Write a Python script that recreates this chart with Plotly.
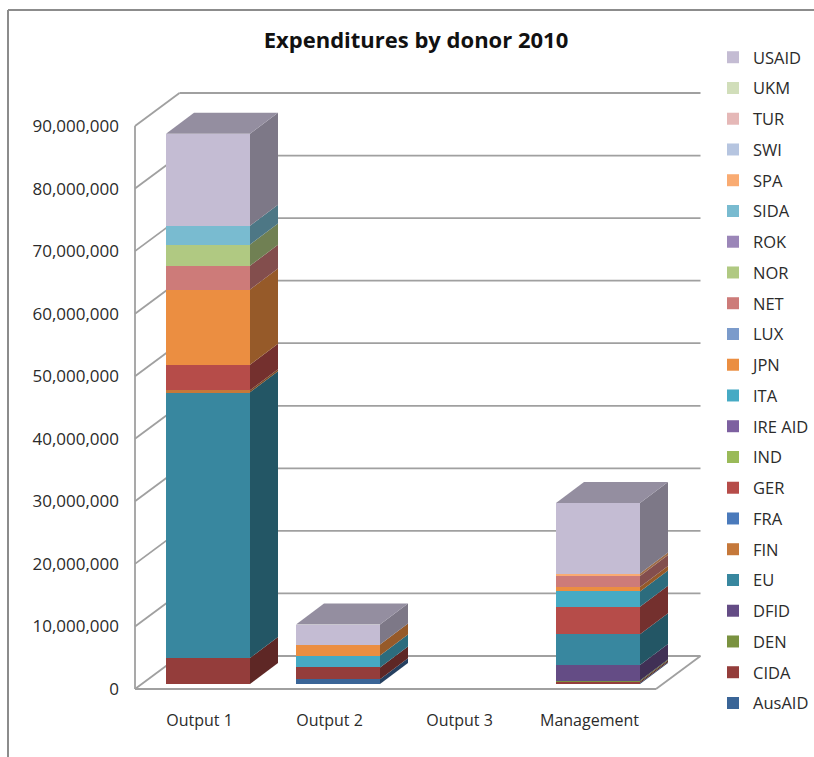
import plotly.graph_objects as go

title = "Expenditures by donor 2010"
categories = ["Output 1", "Output 2", "Output 3", "Management"]
donors = ["AusAID", "CIDA", "DEN", "DFID", "EU", "FIN", "FRA", "GER", "IND", "IRE AID", "ITA",
          "JPN", "LUX", "NET", "NOR", "ROK", "SIDA", "SPA", "SWI", "TUR", "UKM", "USAID"]
colors = ["#3A6597", "#943D3B", "#7A9240", "#644C85", "#38879F", "#C5783A", "#4A7ABB", "#B64C49",
          "#9ABA59", "#7D60A0", "#46AAC4", "#EB8E41", "#7B9BCB", "#CD7B79", "#B0C982", "#9B86B8",
          "#79BBD0", "#F9AB72", "#B6C5E0", "#E5B8B7", "#D1DEBA", "#C4BCD3"]
output_1 = [0, 4150000, 0, 0, 42500000, 300000, 0, 4100000, 0, 0, 0, 12000000, 0, 3800000, 3400000,
            0, 3000000, 0, 0, 0, 0, 14700000]
output_2 = [750000, 1900000, 0, 0, 0, 0, 0, 0, 0, 0, 1900000, 1750000, 0, 0, 0, 0, 0, 0, 0, 0, 0, 3200000]
output_3 = [0] * 22
management = [150000, 250000, 150000, 2500000, 4900000, 0, 0, 4400000, 0, 0, 2450000, 700000, 0,
              1750000, 0, 0, 0, 400000, 0, 0, 0, 11300000]
y_ticks = [0, 10000000, 20000000, 30000000, 40000000, 50000000, 60000000, 70000000, 80000000, 90000000]
series_by_category = [output_1, output_2, output_3, management]

W, H = 814, 757
PL, PR, PT, PB = 120, 814, 80, 700      # plot box in px
X0_PX, X_STEP = 208, 130                # bar centre of first category, px per category
Y0_PX, Y_SCALE = 684, 6.2556e-6         # px of value 0 at bar front, px per unit
BAR_W = 84 / X_STEP
BAR_DX, BAR_DY = 28 / X_STEP, 21 / Y_SCALE
WALL_X = (135 - X0_PX) / X_STEP
WALL_Y = (Y0_PX - 689) / Y_SCALE
WALL_DX, WALL_DY = 44.5 / X_STEP, 33 / Y_SCALE
WALL_W = 521 / X_STEP
LABEL_SHIFT = -8.5 / X_STEP
GRID = "#A0A0A0"


def shade(hex_color, f):
    r, g, b = (int(hex_color[i:i + 2], 16) for i in (1, 3, 5))
    return f"rgb({int(r * f)},{int(g * f)},{int(b * f)})"


fig = go.Figure()
for j, (name, col) in enumerate(zip(donors, colors)):
    fig.add_bar(x=list(range(len(categories))), y=[s[j] for s in series_by_category], name=name,
                marker=dict(color=col, line=dict(width=0)), width=BAR_W,
                legendgroup=name, legendrank=len(donors) - j + 1, hoverinfo="name+y")

for i, series in enumerate(series_by_category):
    right = i + BAR_W / 2
    left = i - BAR_W / 2
    base = 0
    last = None
    for j, v in enumerate(series):
        if v <= 0:
            continue
        top = base + v
        fig.add_scatter(x=[right, right + BAR_DX, right + BAR_DX, right, right],
                        y=[base, base + BAR_DY, top + BAR_DY, top, base],
                        mode="lines", fill="toself", line=dict(width=0),
                        fillcolor=shade(colors[j], 0.64), showlegend=False, hoverinfo="skip")
        base = top
        last = j
    if last is not None:
        fig.add_scatter(x=[left, right, right + BAR_DX, left + BAR_DX, left],
                        y=[base, base, base + BAR_DY, base + BAR_DY, base],
                        mode="lines", fill="toself", line=dict(width=0),
                        fillcolor=shade(colors[last], 0.76), showlegend=False, hoverinfo="skip")

line = dict(color=GRID, width=1.8)
shapes = []


def seg(x0, y0, x1, y1, ln=line):
    shapes.append(dict(type="line", xref="x", yref="y", x0=x0, y0=y0, x1=x1, y1=y1,
                       line=ln, layer="below"))


for t in y_ticks:
    fy = WALL_Y + t
    seg(WALL_X, fy, WALL_X + WALL_DX, fy + WALL_DY)
    seg(WALL_X + WALL_DX, fy + WALL_DY, WALL_X + WALL_DX + WALL_W, fy + WALL_DY)
seg(WALL_X, WALL_Y, WALL_X, WALL_Y + y_ticks[-1])
seg(WALL_X, WALL_Y, WALL_X + WALL_W, WALL_Y)
seg(WALL_X + WALL_W, WALL_Y, WALL_X + WALL_W + WALL_DX, WALL_Y + WALL_DY)

frame = dict(color="#8C8C8C", width=2)
for x0, y0, x1, y1 in [(8, H, 8, 10), (8, 10, W, 10)]:
    shapes.append(dict(type="line", xref="paper", yref="paper",
                       x0=(x0 - PL) / (PR - PL), x1=(x1 - PL) / (PR - PL),
                       y0=(PB - y0) / (PB - PT), y1=(PB - y1) / (PB - PT), line=frame))

fig.update_layout(
    width=W, height=H, autosize=False, barmode="stack", paper_bgcolor="white", plot_bgcolor="rgba(0,0,0,0)",
    margin=dict(l=PL, r=W - PR, t=PT, b=H - PB, pad=0),
    font=dict(family="Open Sans", color="#2B2B2B"),
    title=dict(text=f"<b>{title}</b>", x=416 / W, xanchor="center", y=1 - 40 / H, yanchor="middle",
               font=dict(family="Open Sans", size=22, color="#111111")),
    xaxis=dict(range=[(PL - X0_PX) / X_STEP, (PR - X0_PX) / X_STEP], showgrid=False, zeroline=False, showline=False,
               tickmode="array", tickvals=[i + LABEL_SHIFT for i in range(len(categories))],
               ticktext=categories, ticks="outside", ticklen=6, tickcolor="rgba(0,0,0,0)",
               tickfont=dict(size=16)),
    yaxis=dict(range=[(Y0_PX - PB) / Y_SCALE, (Y0_PX - PT) / Y_SCALE], showgrid=False, zeroline=False, showline=False,
               tickmode="array", tickvals=[WALL_Y + t for t in y_ticks],
               ticktext=[f"{t:,}" for t in y_ticks], ticks="", tickfont=dict(size=17)),
    legend=dict(x=(721 - PL) / (PR - PL), y=(PB - 40) / (PB - PT), xanchor="left", yanchor="top",
                traceorder="grouped", tracegroupgap=6.3, font=dict(size=16.5), maxheight=720,
                indentation=-8, bgcolor="rgba(0,0,0,0)", borderwidth=0, itemwidth=30,
                itemclick=False, itemdoubleclick=False),
    shapes=shapes,
)
fig.write_html("out.html", config={"displayModeBar": False},
               post_script="document.body.style.margin='0';")
